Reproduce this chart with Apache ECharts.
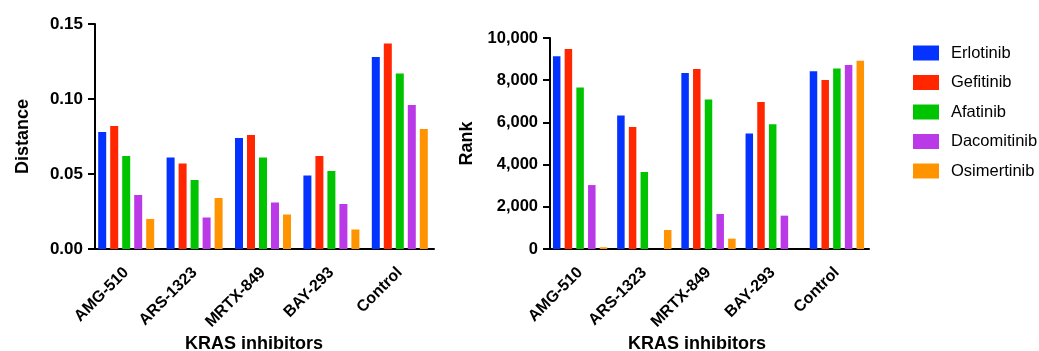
<!DOCTYPE html>
<html>
<head>
<meta charset="utf-8">
<script src="https://cdn.jsdelivr.net/npm/echarts@6/dist/echarts.min.js"></script>
<style>
html,body{margin:0;padding:0;background:#fff;}
#chart{width:1039px;height:351px;}
</style>
</head>
<body>
<div id="chart"></div>
<script>
const categories = ['AMG-510', 'ARS-1323', 'MRTX-849', 'BAY-293', 'Control'];
const drugs = ['Erlotinib', 'Gefitinib', 'Afatinib', 'Dacomitinib', 'Osimertinib'];

const distanceErlotinib   = [0.078, 0.061, 0.074, 0.049, 0.128];
const distanceGefitinib   = [0.082, 0.057, 0.076, 0.062, 0.137];
const distanceAfatinib    = [0.062, 0.046, 0.061, 0.052, 0.117];
const distanceDacomitinib = [0.036, 0.021, 0.031, 0.030, 0.096];
const distanceOsimertinib = [0.020, 0.034, 0.023, 0.013, 0.080];

const rankErlotinib   = [9130, 6330, 8340, 5470, 8420];
const rankGefitinib   = [9480, 5780, 8530, 6970, 8010];
const rankAfatinib    = [7650, 3650, 7080, 5910, 8560];
const rankDacomitinib = [3030, 0, 1660, 1580, 8720];
const rankOsimertinib = [80, 900, 490, 0, 8920];

const distanceTicks = [0, 0.05, 0.10, 0.15];
const rankTicks = [0, 2000, 4000, 6000, 8000, 10000];

const colors = ['#0433FF', '#FF2600', '#00C400', '#BA3AE8', '#FF9300'];
const font = "'Liberation Sans', Arial, Helvetica, sans-serif";

const distanceData = [distanceErlotinib, distanceGefitinib, distanceAfatinib, distanceDacomitinib, distanceOsimertinib];
const rankData = [rankErlotinib, rankGefitinib, rankAfatinib, rankDacomitinib, rankOsimertinib];

function xAxisCfg(gridIndex) {
  return {
    type: 'category', gridIndex: gridIndex, data: categories,
    axisLine: {lineStyle: {color: '#000', width: 2}},
    axisTick: {alignWithLabel: true, length: 7, lineStyle: {color: '#000', width: 2}},
    axisLabel: {rotate: 45, margin: 21, color: '#000', fontWeight: 'bold', fontSize: 16, fontFamily: font, interval: 0}
  };
}
function yAxisCfg(gridIndex, ticks, name, fmt, offset, nameGap, fs) {
  return {
    type: 'value', gridIndex: gridIndex,
    min: ticks[0], max: ticks[ticks.length - 1], interval: ticks[1] - ticks[0],
    offset: offset,
    name: name, nameLocation: 'middle', nameGap: nameGap, nameRotate: 90,
    nameTextStyle: {color: '#000', fontWeight: 'bold', fontSize: 18, fontFamily: font},
    axisLine: {show: true, lineStyle: {color: '#000', width: 2}},
    axisTick: {show: true, length: 7, lineStyle: {color: '#000', width: 2}},
    axisLabel: {color: '#000', fontWeight: 'bold', fontSize: fs, fontFamily: font, margin: 12, formatter: fmt},
    splitLine: {show: false}
  };
}

const series = [];
drugs.forEach((d, i) => {
  series.push({name: d, type: 'bar', xAxisIndex: 0, yAxisIndex: 0, data: distanceData[i],
    barWidth: 8, barGap: '50%', itemStyle: {color: colors[i]}});
});
drugs.forEach((d, i) => {
  series.push({name: d, type: 'bar', xAxisIndex: 1, yAxisIndex: 1, data: rankData[i],
    barWidth: 7.5, barGap: '56%', itemStyle: {color: colors[i]}});
});

const chart = echarts.init(document.getElementById('chart'), null, {renderer: 'canvas'});
chart.setOption({
  animation: false,
  color: colors,
  grid: [
    {left: 92, top: 24, width: 342, height: 225},
    {left: 548, top: 38, width: 321, height: 211}
  ],
  xAxis: [xAxisCfg(0), xAxisCfg(1)],
  yAxis: [
    yAxisCfg(0, distanceTicks, 'Distance', v => v.toFixed(2), -3, 63, 17),
    yAxisCfg(1, rankTicks, 'Rank', v => v.toLocaleString('en-US'), -2, 74, 16.5)
  ],
  legend: {
    orient: 'vertical', left: 913, top: 44, padding: 0,
    itemWidth: 26, itemHeight: 15, itemGap: 11.5,
    icon: 'rect',
    data: drugs,
    textStyle: {color: '#000', fontSize: 16.5, fontFamily: font, padding: [0, 0, 0, 7], lineHeight: 18}
  },
  graphic: [
    {type: 'text', left: 185, top: 335, style: {text: 'KRAS inhibitors', font: "bold 18px 'Liberation Sans', Arial, sans-serif", fill: '#000'}},
    {type: 'text', left: 628, top: 335, style: {text: 'KRAS inhibitors', font: "bold 18px 'Liberation Sans', Arial, sans-serif", fill: '#000'}}
  ],
  series: series
});
</script>
</body>
</html>
